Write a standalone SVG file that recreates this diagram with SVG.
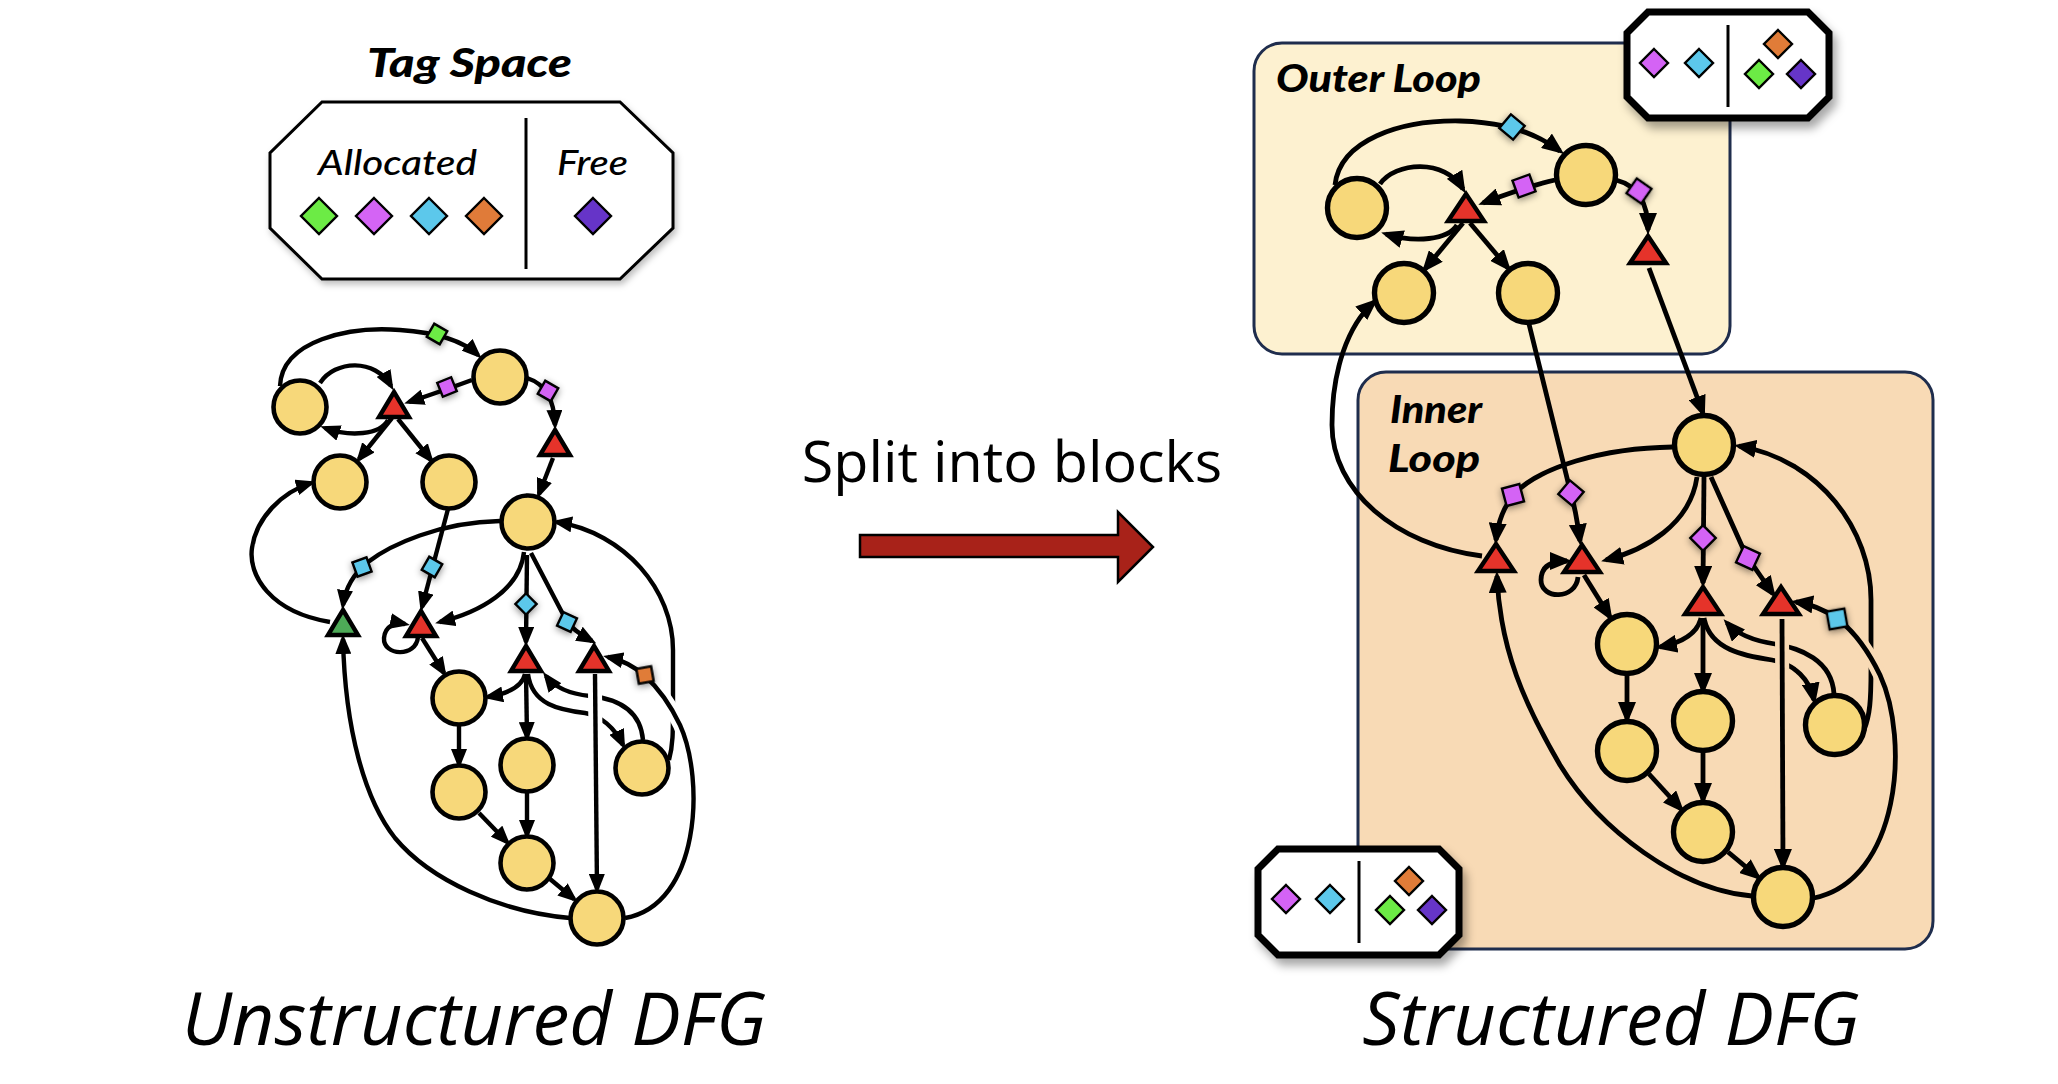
<svg xmlns="http://www.w3.org/2000/svg" width="2058" height="1084" viewBox="0 0 2058 1084">
<style>
.e{fill:none;stroke:#000;stroke-width:4.4;marker-end:url(#ah)}
.eR{fill:none;stroke:#000;stroke-width:4.8;marker-end:url(#ahR)}
.hw{fill:none;stroke:#fff;stroke-width:14}
.hp{fill:none;stroke:#F8DAB5;stroke-width:14}
.n{fill:#F7D87A;stroke:#000;stroke-width:4.6}
.nR{fill:#F7D87A;stroke:#000;stroke-width:5.4}
.tr{fill:#E5332A;stroke:#000;stroke-width:4.4;stroke-linejoin:miter}
.tg{fill:#4DAA57;stroke:#000;stroke-width:4.4;stroke-linejoin:miter}
.d{stroke:#000;stroke-width:2.4}
.g{fill:#6CEB45}.p{fill:#D464F5}.b{fill:#5CC8EB}.o{fill:#E07B39}.v{fill:#6634C8}
.lbl{font-family:Lato,"Liberation Sans",sans-serif;font-weight:900;font-style:italic;fill:#000}
.it{font-family:Lato,"Liberation Sans",sans-serif;font-weight:500;font-style:italic;fill:#000}
.big{font-family:"Open Sans","Liberation Sans",sans-serif;font-style:italic;font-size:74px;fill:#000}
</style>
<defs>
<marker id="ah" viewBox="0 0 20 16" refX="15" refY="8" markerWidth="20" markerHeight="16" orient="auto" markerUnits="userSpaceOnUse"><path d="M0,0 L20,8 L0,16 z"/></marker>
<marker id="ahR" viewBox="0 0 22 18" refX="17" refY="9" markerWidth="22" markerHeight="18" orient="auto" markerUnits="userSpaceOnUse"><path d="M0,0 L22,9 L0,18 z"/></marker>
<filter id="sh" x="-60%" y="-60%" width="220%" height="220%"><feDropShadow dx="0" dy="2" stdDeviation="3.5" flood-color="#000" flood-opacity="0.45"/></filter>
<filter id="bs" x="-20%" y="-20%" width="150%" height="160%"><feDropShadow dx="4" dy="7" stdDeviation="5" flood-color="#000" flood-opacity="0.35"/></filter>
<filter id="ls" x="-10%" y="-10%" width="125%" height="130%"><feDropShadow dx="2" dy="4" stdDeviation="3" flood-color="#000" flood-opacity="0.25"/></filter>
</defs>
<rect width="2058" height="1084" fill="#fff"/>

<!-- Tag Space legend -->
<g id="tag-space">
<text class="lbl" x="367" y="77" font-size="40" textLength="205" lengthAdjust="spacingAndGlyphs">Tag Space</text>
<polygon points="322,102 620,102 673,153 673,228 620,279 322,279 270,228 270,153" fill="#fff" stroke="#000" stroke-width="3" filter="url(#ls)"/>
<line x1="526" y1="118" x2="526" y2="269" stroke="#000" stroke-width="3"/>
<text class="it" x="318" y="175" font-size="35" textLength="159" lengthAdjust="spacingAndGlyphs">Allocated</text>
<text class="it" x="557" y="175" font-size="35" textLength="71" lengthAdjust="spacingAndGlyphs">Free</text>
<polygon class="d g" points="319,198 337,216 319,234 301,216"/>
<polygon class="d p" points="374,198 392,216 374,234 356,216"/>
<polygon class="d b" points="429,198 447,216 429,234 411,216"/>
<polygon class="d o" points="484,198 502,216 484,234 466,216"/>
<polygon class="d v" points="593,198 611,216 593,234 575,216"/>
</g>

<!-- middle -->
<g id="split-arrow">
<text x="1012" y="482" font-family="'Open Sans','Liberation Sans',sans-serif" font-size="57.5" text-anchor="middle">Split into blocks</text>
<polygon points="860,535 1118,535 1118,512 1153,547 1118,582 1118,557 860,557" fill="#A82219" stroke="#000" stroke-width="2.5"/>
</g>

<text class="big" x="474" y="1045" text-anchor="middle">Unstructured DFG</text>
<text class="big" x="1611" y="1045" text-anchor="middle">Structured DFG</text>

<!-- loop boxes -->
<g id="outer-loop">
<rect x="1254" y="43" width="476" height="311" rx="28" fill="#FDF1D0" stroke="#1F2D4D" stroke-width="3"/>
<text class="lbl" x="1276" y="92" font-size="38" textLength="205" lengthAdjust="spacingAndGlyphs">Outer Loop</text>
</g>
<g id="inner-loop">
<rect x="1358" y="372" width="575" height="577" rx="28" fill="#F8DAB5" stroke="#1F2D4D" stroke-width="3"/>
<text class="lbl" x="1390" y="423" font-size="38" textLength="92" lengthAdjust="spacingAndGlyphs">Inner</text>
<text class="lbl" x="1388" y="472" font-size="38" textLength="92" lengthAdjust="spacingAndGlyphs">Loop</text>
</g>

<!-- LEFT connectors -->
<g id="connectors-left">
<path class="e" d="M280,386 C282,340 350,326 400,330 C430,332 460,338 478,355"/>
<path class="e" d="M320,383 C335,360 375,358 391,386"/>
<path class="e" d="M388,420 C380,435 350,437 325,428"/>
<path class="e" d="M472,380 Q445,390 409,402"/>
<path class="e" d="M527,378 C545,384 554,398 555,425"/>
<path class="e" d="M392,418 L359,459"/>
<path class="e" d="M398,419 L431,460"/>
<path class="e" d="M553,458 L539,494"/>
<path class="e" d="M330,622 C270,612 248,575 252,548 C256,518 282,492 311,483"/>
<path class="e" d="M500,521 C440,522 390,545 368,562 C352,575 345,590 343,605"/>
<path class="e" d="M448,509 L422,607"/>
<path class="e" d="M524,552 C520,590 480,612 440,622"/>
<path class="e" d="M418,637 C416,658 383,656 384,638 C385,626 395,622 405,624"/>
<path class="e" d="M527,555 L526,642"/>
<path class="e" d="M531,553 L566,620 Q572,630 592,641"/>
<path class="e" d="M422,638 L444,673"/>
<path class="e" d="M525,674 C522,688 505,694 488,697"/>
<path class="e" d="M526,674 L527,737"/>
<path class="e" d="M528,674 C532,705 560,710 585,713 C600,715 615,728 623,745"/>
<path class="e" d="M643,740 C640,705 610,698 590,696 C570,694 555,688 546,676"/>
<path class="e" d="M669,760 C673,745 673,735 673,700 L673,650 C673,590 625,533 557,522"/>
<path class="hw" d="M625,918 C700,905 705,780 680,725 C668,700 655,685 645,676"/>
<path class="e" d="M625,918 C700,905 705,780 680,725 C668,700 655,685 645,676 C635,667 622,660 608,657"/>
<path class="hw" d="M595,690 L597,870"/>
<path class="e" d="M595,674 L597,889"/>
<path class="e" d="M459,725 L459,764"/>
<path class="e" d="M479,813 L507,842"/>
<path class="e" d="M527,792 L527,835"/>
<path class="e" d="M550,879 L574,899"/>
<path class="e" d="M570,918 C500,912 430,880 395,838 C365,800 345,730 343,639"/>
<g filter="url(#sh)">
<rect class="d g" x="429.5" y="326.5" width="15" height="15" transform="rotate(30 437 334)"/>
<rect class="d p" x="439.5" y="379.5" width="15" height="15" transform="rotate(-22 447 387)"/>
<rect class="d p" x="540.5" y="383.5" width="15" height="15" transform="rotate(30 548 391)"/>
<rect class="d b" x="354.5" y="559.5" width="15" height="15" transform="rotate(-20 362 567)"/>
<rect class="d b" x="424.5" y="559.5" width="15" height="15" transform="rotate(30 432 567)"/>
<rect class="d b" x="518.5" y="596.5" width="15" height="15" transform="rotate(45 526 604)"/>
<rect class="d b" x="559.5" y="614.5" width="15" height="15" transform="rotate(25 567 622)"/>
<rect class="d o" x="637.5" y="667.5" width="15" height="15" transform="rotate(-10 645 675)"/>
</g>
</g>

<!-- LEFT nodes -->
<g id="l-A"><circle class="n" cx="300" cy="407" r="26.5"/></g>
<g id="l-B"><circle class="n" cx="500" cy="377" r="26.5"/></g>
<g id="l-C"><circle class="n" cx="340" cy="482" r="26.5"/></g>
<g id="l-D"><circle class="n" cx="449" cy="482" r="26.5"/></g>
<g id="l-E"><circle class="n" cx="528" cy="522" r="26.5"/></g>
<g id="l-F"><circle class="n" cx="459" cy="698" r="26.5"/></g>
<g id="l-G"><circle class="n" cx="459" cy="792" r="26.5"/></g>
<g id="l-H"><circle class="n" cx="527" cy="765" r="26.5"/></g>
<g id="l-I"><circle class="n" cx="527" cy="863" r="26.5"/></g>
<g id="l-J"><circle class="n" cx="597" cy="918" r="26.5"/></g>
<g id="l-K"><circle class="n" cx="642" cy="768" r="26.5"/></g>
<g id="l-T1"><polygon class="tr" points="394,392 409,417 379,417"/></g>
<g id="l-T2"><polygon class="tr" points="555,430 570,455 540,455"/></g>
<g id="l-Tg"><polygon class="tg" points="343,610 358,635 328,635"/></g>
<g id="l-T3"><polygon class="tr" points="421,611 436,636 406,636"/></g>
<g id="l-T4"><polygon class="tr" points="526,646 541,671 511,671"/></g>
<g id="l-T5"><polygon class="tr" points="594,646 609,671 579,671"/></g>

<!-- RIGHT connectors -->
<g id="connectors-right">
<path class="eR" d="M1335,185 C1340,140 1400,120 1460,121 C1500,122 1535,132 1560,151"/>
<path class="eR" d="M1380,184 C1395,162 1445,158 1463,189"/>
<path class="eR" d="M1457,225 C1448,240 1415,243 1386,234"/>
<path class="eR" d="M1555,180 Q1525,187 1483,203"/>
<path class="eR" d="M1616,180 C1635,185 1648,200 1648,230"/>
<path class="eR" d="M1463,223 L1425,269"/>
<path class="eR" d="M1470,223 L1508,268"/>
<path class="eR" d="M1649,268 L1703,413"/>
<path class="eR" d="M1529,324 L1570,490 Q1576,510 1580,541"/>
<path class="eR" d="M1482,556 C1395,545 1332,490 1332,425 C1332,370 1348,325 1374,302"/>
<path class="eR" d="M1673,447 C1600,448 1540,468 1515,493 C1505,505 1498,520 1496,540"/>
<path class="eR" d="M1697,477 C1690,525 1645,550 1606,560"/>
<path class="eR" d="M1578,577 C1576,600 1541,600 1541,580 C1541,566 1552,561 1567,561"/>
<path class="eR" d="M1704,477 L1703,583"/>
<path class="eR" d="M1711,477 L1746,555 L1773,594"/>
<path class="eR" d="M1584,575 L1610,617"/>
<path class="eR" d="M1701,618 C1697,635 1680,643 1660,647"/>
<path class="eR" d="M1703,618 L1703,690"/>
<path class="eR" d="M1704,618 C1710,650 1745,656 1772,660 C1795,664 1810,680 1814,700"/>
<path class="eR" d="M1834,694 C1832,660 1800,648 1775,644 C1755,641 1738,635 1727,623"/>
<path class="hp" d="M1782,630 L1783,850"/>
<path class="eR" d="M1782,619 L1783,866"/>
<path class="eR" d="M1864,730 C1870,715 1871,700 1871,670 L1871,600 C1871,530 1820,460 1739,446"/>
<path class="hp" d="M1814,898 C1900,880 1910,740 1880,675 C1868,650 1852,630 1838,619"/>
<path class="eR" d="M1814,898 C1900,880 1910,740 1880,675 C1868,650 1852,630 1838,619 C1825,610 1810,604 1796,602"/>
<path class="eR" d="M1627,676 L1627,719"/>
<path class="eR" d="M1649,774 L1681,809"/>
<path class="eR" d="M1703,753 L1703,800"/>
<path class="eR" d="M1728,852 L1758,877"/>
<path class="eR" d="M1752,896 C1680,890 1600,830 1560,765 C1525,705 1500,650 1497,576"/>
<g filter="url(#sh)">
<rect class="d b" x="1503" y="118" width="18" height="18" transform="rotate(40 1512 127)"/>
<rect class="d p" x="1515" y="177" width="18" height="18" transform="rotate(-20 1524 186)"/>
<rect class="d p" x="1630" y="182" width="18" height="18" transform="rotate(35 1639 191)"/>
<rect class="d p" x="1504" y="486" width="18" height="18" transform="rotate(-15 1513 495)"/>
<rect class="d p" x="1562" y="484" width="18" height="18" transform="rotate(40 1571 493)"/>
<rect class="d p" x="1694" y="529" width="18" height="18" transform="rotate(45 1703 538)"/>
<rect class="d p" x="1739" y="549" width="18" height="18" transform="rotate(25 1748 558)"/>
<rect class="d b" x="1828" y="610" width="18" height="18" transform="rotate(-10 1837 619)"/>
</g>
</g>

<!-- RIGHT nodes -->
<g id="r-P1"><circle class="nR" cx="1357" cy="208" r="29.5"/></g>
<g id="r-P2"><circle class="nR" cx="1586" cy="175" r="29.5"/></g>
<g id="r-P3"><circle class="nR" cx="1404" cy="293" r="29.5"/></g>
<g id="r-P4"><circle class="nR" cx="1528" cy="293" r="29.5"/></g>
<g id="r-Q1"><circle class="nR" cx="1704" cy="445" r="29.5"/></g>
<g id="r-Q2"><circle class="nR" cx="1627" cy="644" r="29.5"/></g>
<g id="r-Q3"><circle class="nR" cx="1703" cy="721" r="29.5"/></g>
<g id="r-Q4"><circle class="nR" cx="1627" cy="751" r="29.5"/></g>
<g id="r-Q5"><circle class="nR" cx="1835" cy="725" r="29.5"/></g>
<g id="r-Q6"><circle class="nR" cx="1703" cy="832" r="29.5"/></g>
<g id="r-Q7"><circle class="nR" cx="1783" cy="897" r="29.5"/></g>
<g id="r-R1"><polygon class="tr" points="1466,194 1484,221 1448,221"/></g>
<g id="r-R2"><polygon class="tr" points="1648,236 1666,263 1630,263"/></g>
<g id="r-R3"><polygon class="tr" points="1496,544 1514,571 1478,571"/></g>
<g id="r-R4"><polygon class="tr" points="1582,545 1600,572 1564,572"/></g>
<g id="r-R5"><polygon class="tr" points="1703,587 1721,614 1685,614"/></g>
<g id="r-R6"><polygon class="tr" points="1781,587 1799,614 1763,614"/></g>

<!-- popups -->
<g id="tags-outer" filter="url(#bs)">
<polygon points="1648,12 1808,12 1829,33 1829,97 1808,118 1648,118 1627,97 1627,33" fill="#fff" stroke="#000" stroke-width="7"/>
<line x1="1728" y1="25" x2="1728" y2="107" stroke="#000" stroke-width="3"/>
<polygon class="d p" points="1654,49 1668,63 1654,77 1640,63"/>
<polygon class="d b" points="1699,49 1713,63 1699,77 1685,63"/>
<polygon class="d o" points="1778,30 1792,44 1778,58 1764,44"/>
<polygon class="d g" points="1759,60 1773,74 1759,88 1745,74"/>
<polygon class="d v" points="1801,60 1815,74 1801,88 1787,74"/>
</g>
<g id="tags-inner" filter="url(#bs)">
<polygon points="1278,849 1439,849 1459,869 1459,935 1439,955 1278,955 1258,935 1258,869" fill="#fff" stroke="#000" stroke-width="7"/>
<line x1="1359" y1="861" x2="1359" y2="943" stroke="#000" stroke-width="3"/>
<polygon class="d p" points="1286,885 1300,899 1286,913 1272,899"/>
<polygon class="d b" points="1330,885 1344,899 1330,913 1316,899"/>
<polygon class="d o" points="1409,867 1423,881 1409,895 1395,881"/>
<polygon class="d g" points="1390,896 1404,910 1390,924 1376,910"/>
<polygon class="d v" points="1432,896 1446,910 1432,924 1418,910"/>
</g>
</svg>
